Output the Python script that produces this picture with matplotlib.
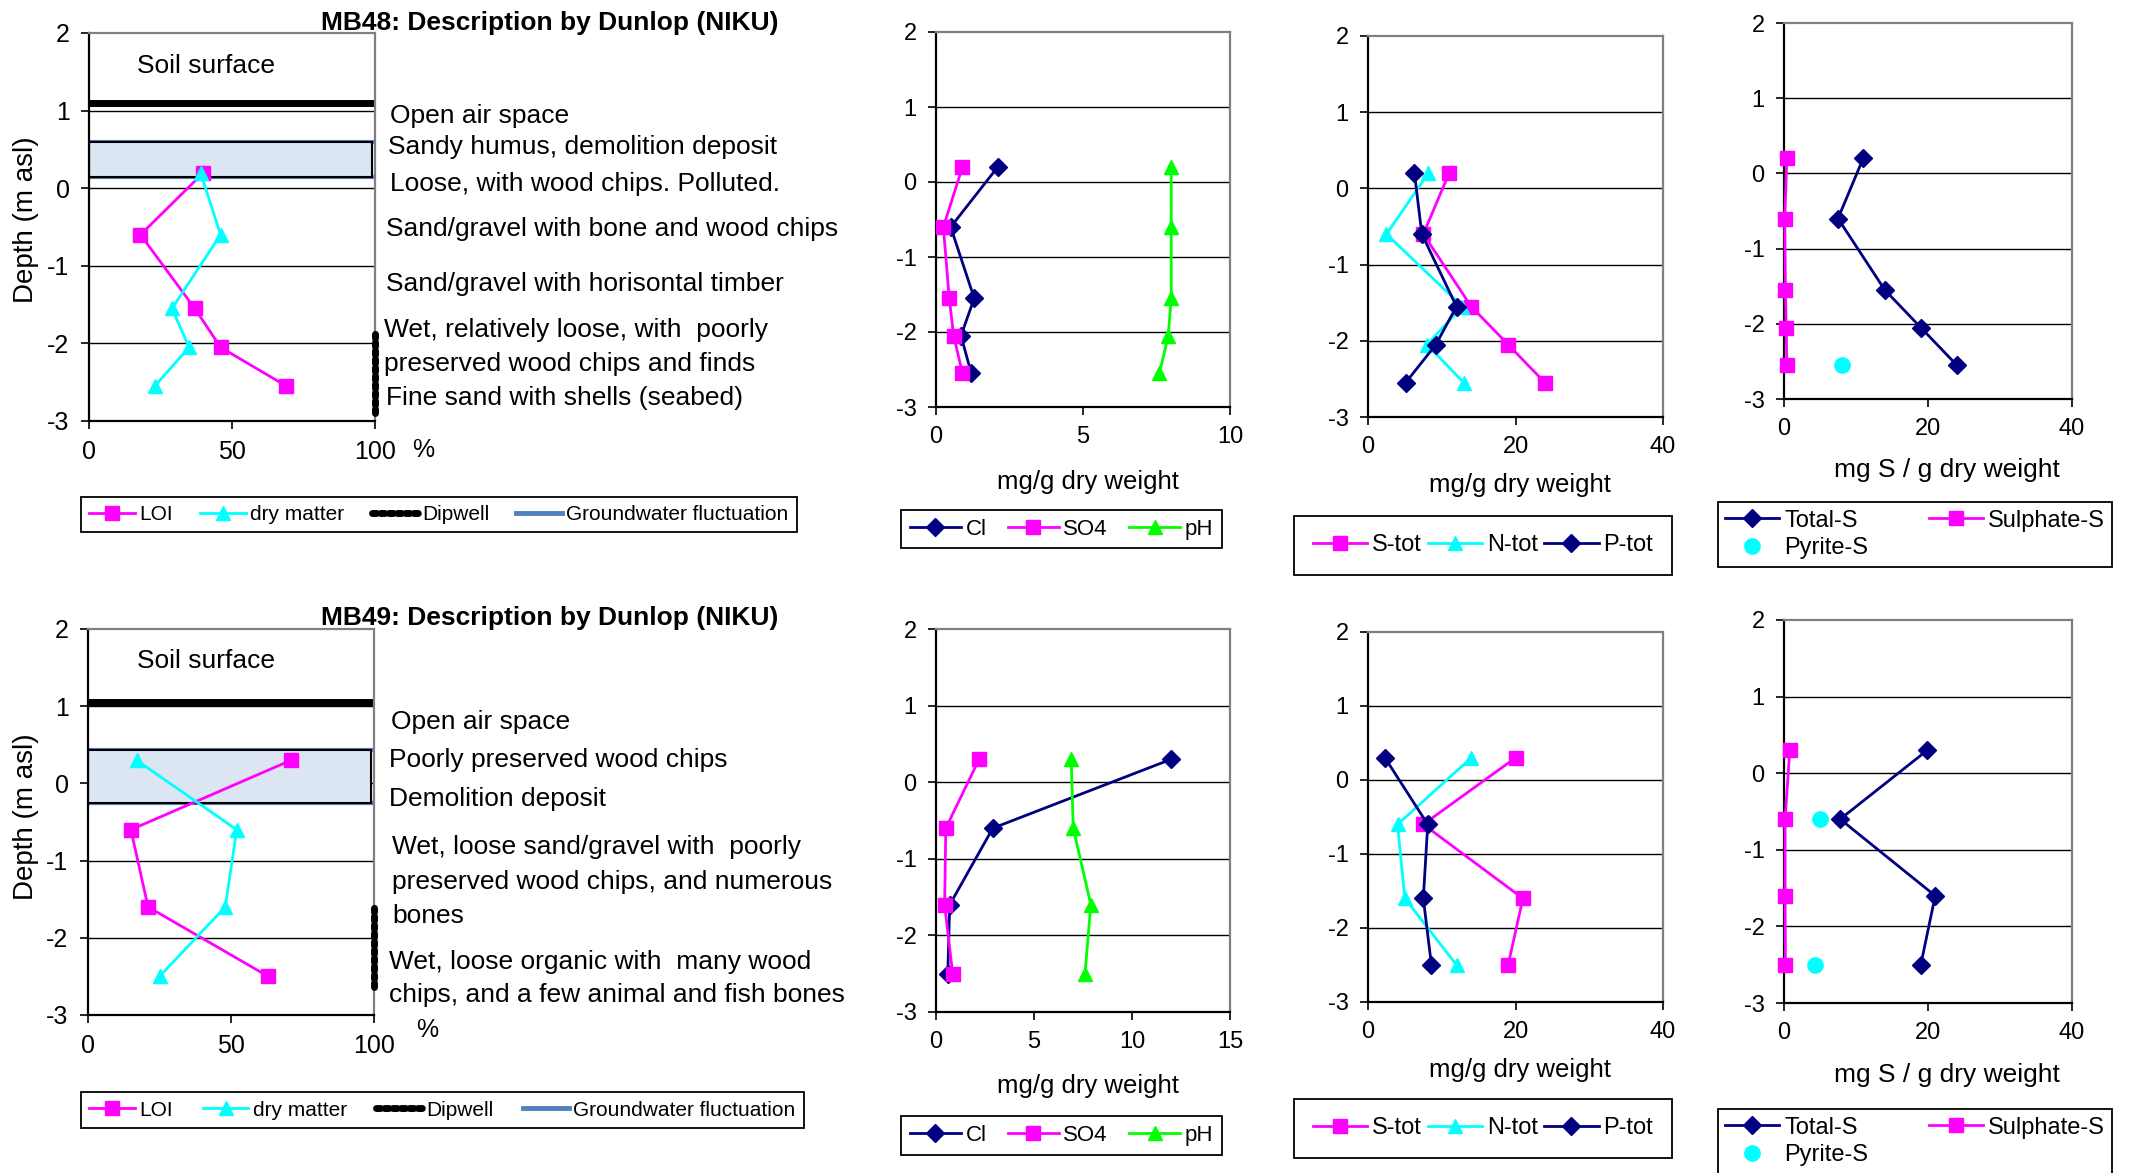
import matplotlib
matplotlib.use('Agg')
import matplotlib.pyplot as plt
from matplotlib.lines import Line2D

plt.rcParams['axes.unicode_minus'] = False
plt.rcParams['font.family'] = ['Liberation Sans', 'DejaVu Sans']

NAVY = '#000080'
MAGENTA = '#ff00ff'
CYAN = '#00ffff'
GREEN = '#00ff00'
GW_BLUE = '#4f81bd'
GW_FILL = '#dce6f2'

# ---- data: MB48 ----
mb48_depth = [0.2, -0.6, -1.55, -2.05, -2.55]
mb48_loi = [40, 18, 37, 46, 69]
mb48_dry = [39, 46, 29, 35, 23]
mb48_cl = [2.1, 0.5, 1.3, 0.85, 1.2]
mb48_so4 = [0.9, 0.25, 0.45, 0.6, 0.9]
mb48_ph = [8.0, 8.0, 8.0, 7.9, 7.6]
mb48_stot = [11, 7.5, 14, 19, 24]
mb48_ntot = [8.2, 2.5, 12.8, 8, 13]
mb48_ptot = [6.3, 7.3, 12, 9.2, 5.1]
mb48_total_s = [11, 7.5, 14, 19, 24]
mb48_sulphate_s = [0.4, 0.1, 0.2, 0.3, 0.4]
mb48_pyrite_depth = [-2.55]
mb48_pyrite_s = [8]
mb48_soil_surface = 1.1
mb48_groundwater = (0.15, 0.6)
mb48_dipwell = (-2.9, -1.83)
mb48_layers = ['Open air space', 'Sandy humus, demolition deposit',
               'Loose, with wood chips. Polluted.',
               'Sand/gravel with bone and wood chips',
               'Sand/gravel with horisontal timber',
               'Wet, relatively loose, with  poorly',
               'preserved wood chips and finds',
               'Fine sand with shells (seabed)']

# ---- data: MB49 ----
mb49_depth = [0.3, -0.6, -1.6, -2.5]
mb49_loi = [71, 15, 21, 63]
mb49_dry = [17, 52, 48, 25]
mb49_cl = [12.0, 2.9, 0.7, 0.6]
mb49_so4 = [2.2, 0.5, 0.44, 0.85]
mb49_ph = [6.9, 7.0, 7.9, 7.6]
mb49_stot = [20, 7.5, 21, 19]
mb49_ntot = [14, 4, 5, 12]
mb49_ptot = [2.3, 8.1, 7.5, 8.6]
mb49_total_s = [19.9, 7.8, 21, 19]
mb49_sulphate_s = [0.8, 0.15, 0.15, 0.2]
mb49_pyrite_depth = [-0.6, -2.5]
mb49_pyrite_s = [5, 4.3]
mb49_soil_surface = 1.05
mb49_groundwater = (-0.26, 0.43)
mb49_dipwell = (-2.64, -1.58)
mb49_layers = ['Open air space', 'Poorly preserved wood chips',
               'Demolition deposit',
               'Wet, loose sand/gravel with  poorly',
               'preserved wood chips, and numerous', 'bones',
               'Wet, loose organic with  many wood',
               'chips, and a few animal and fish bones']

W, H = 2134, 1173
fig = plt.figure(figsize=(W / 100, H / 100), dpi=100)


def fx(x):
    return x / W


def fy(y):
    return 1 - y / H


def box(l, t, r, b):
    return [l / W, 1 - b / H, (r - l) / W, (b - t) / H]


def depth_axes(rect, xmax, xticks, labelsize=17):
    ax = fig.add_axes(rect)
    ax.set_xlim(0, xmax)
    ax.set_ylim(-3, 2)
    ax.set_xticks(xticks)
    ax.set_yticks(range(-3, 3))
    for y in (-2, -1, 0, 1):
        ax.axhline(y, color='black', lw=1, zorder=1)
    for s in ('left', 'bottom'):
        ax.spines[s].set_color('black')
        ax.spines[s].set_linewidth(1.6)
    for s in ('top', 'right'):
        ax.spines[s].set_color('#808080')
        ax.spines[s].set_linewidth(1.6)
    ax.tick_params(direction='out', length=6, width=1.2,
                   labelsize=labelsize, pad=8)
    return ax


def framed_legend(ax, handles, labels, rect, ncol, size=16, **kw):
    opts = dict(handlelength=2.3, handletextpad=0.2, columnspacing=0.6)
    opts.update(kw)
    leg = ax.legend(handles, labels, loc='center', bbox_to_anchor=rect,
                    bbox_transform=fig.transFigure, mode='expand', ncol=ncol,
                    fancybox=False, edgecolor='black', borderaxespad=0,
                    prop={'size': size}, framealpha=1, **opts)
    leg.get_frame().set_linewidth(1.3)
    return leg


def line(ax, x, y, color, marker, ms, label):
    h, = ax.plot(x, y, color=color, marker=marker, ms=ms, lw=2,
                 label=label, zorder=3, clip_on=False)
    return h


def profile_panel(axrect, legrect, depth, loi, dry, soil, gw, dip, title,
                  title_y, layers, layer_pos, soil_y, pct_pos, ylab_y):
    ax = depth_axes(axrect, 100, [0, 50, 100], labelsize=18)
    ax.axhspan(gw[0], gw[1], xmin=0, xmax=0.99, facecolor=GW_FILL,
               edgecolor='black', lw=1.5, zorder=1.5)
    ax.hlines(gw, 0, 100, color=GW_BLUE, lw=3, zorder=1.4)
    ax.hlines(soil, 0, 100, color='black', lw=5, zorder=2)
    h1 = line(ax, loi, depth, MAGENTA, 's', 10, 'LOI')
    h2 = line(ax, dry, depth, CYAN, '^', 10, 'dry matter')
    h3, = ax.plot([100, 100], dip, color='black', lw=5,
                  linestyle=(0, (0.6, 0.6)), dash_capstyle='round',
                  clip_on=False, zorder=4)
    h4 = Line2D([], [], color=GW_BLUE, lw=3.5)
    framed_legend(ax, [h1, h2, h3, h4],
                  ['LOI', 'dry matter', 'Dipwell', 'Groundwater fluctuation'],
                  legrect, 4, size=15, handlelength=2.2, columnspacing=0.5)
    fig.text(fx(550), fy(title_y), title, ha='center', va='center',
             fontsize=19, fontweight='bold')
    fig.text(fx(137), fy(soil_y), 'Soil surface', ha='left', va='center',
             fontsize=19)
    for txt, (xp, yp) in zip(layers, layer_pos):
        fig.text(fx(xp), fy(yp), txt, ha='left', va='center', fontsize=19)
    fig.text(fx(pct_pos[0]), fy(pct_pos[1]), '%', ha='left', va='center',
             fontsize=18)
    fig.text(fx(26), fy(ylab_y), 'Depth (m asl)', rotation=90,
             ha='center', va='center', fontsize=20)
    return ax


def chem_panel(axrect, legrect, xmax, xticks, depth, cl, so4, ph, xlab_y):
    ax = depth_axes(axrect, xmax, xticks)
    h1 = line(ax, cl, depth, NAVY, 'D', 9, 'Cl')
    h2 = line(ax, so4, depth, MAGENTA, 's', 10, 'SO4')
    h3 = line(ax, ph, depth, GREEN, '^', 10, 'pH')
    framed_legend(ax, [h1, h2, h3], ['Cl', 'SO4', 'pH'], legrect, 3)
    fig.text(fx(1088), fy(xlab_y), 'mg/g dry weight', ha='center',
             va='center', fontsize=18.5)
    return ax


def nutrient_panel(axrect, legrect, depth, stot, ntot, ptot, xlab_y):
    ax = depth_axes(axrect, 40, [0, 20, 40])
    h1 = line(ax, stot, depth, MAGENTA, 's', 10, 'S-tot')
    h2 = line(ax, ntot, depth, CYAN, '^', 10, 'N-tot')
    h3 = line(ax, ptot, depth, NAVY, 'D', 9, 'P-tot')
    framed_legend(ax, [h1, h2, h3], ['S-tot', 'N-tot', 'P-tot'], legrect, 3,
                  size=17, borderpad=0.8)
    fig.text(fx(1520), fy(xlab_y), 'mg/g dry weight', ha='center',
             va='center', fontsize=18.5)
    return ax


def sulphur_panel(axrect, legrect, depth, total_s, sulphate_s, pyr_depth,
                  pyr_s, xlab_y):
    ax = depth_axes(axrect, 40, [0, 20, 40])
    h1 = line(ax, total_s, depth, NAVY, 'D', 9, 'Total-S')
    h2 = line(ax, sulphate_s, depth, MAGENTA, 's', 10, 'Sulphate-S')
    h3, = ax.plot(pyr_s, pyr_depth, 'o', color=CYAN, ms=11, zorder=3,
                  label='Pyrite-S')
    framed_legend(ax, [h1, h3, h2], ['Total-S', 'Pyrite-S', 'Sulphate-S'],
                  legrect, 2, size=17, labelspacing=0.25, borderpad=0.3)
    fig.text(fx(1947), fy(xlab_y), 'mg S / g dry weight', ha='center',
             va='center', fontsize=19)
    return ax


# ---- MB48 row ----
profile_panel(box(89, 33, 375, 421), box(81, 484, 797, 545),
              mb48_depth, mb48_loi, mb48_dry, mb48_soil_surface,
              mb48_groundwater, mb48_dipwell,
              'MB48: Description by Dunlop (NIKU)', 23, mb48_layers,
              [(390, 116), (388, 147), (390, 184), (386, 229), (386, 284),
               (384, 330), (384, 364), (386, 398)],
              66, (412, 450), 220)
chem_panel(box(936, 32, 1230, 407), box(901, 504, 1222, 554), 10,
           [0, 5, 10], mb48_depth, mb48_cl, mb48_so4, mb48_ph, 482)
nutrient_panel(box(1368, 36, 1663, 417), box(1294, 511, 1672, 580),
               mb48_depth, mb48_stot, mb48_ntot, mb48_ptot, 485)
sulphur_panel(box(1784, 23, 2072, 399), box(1718, 502, 2112, 567),
              mb48_depth, mb48_total_s, mb48_sulphate_s, mb48_pyrite_depth,
              mb48_pyrite_s, 470)

# ---- MB49 row ----
profile_panel(box(88, 629, 374, 1015), box(81, 1081, 804, 1139),
              mb49_depth, mb49_loi, mb49_dry, mb49_soil_surface,
              mb49_groundwater, mb49_dipwell,
              'MB49: Description by Dunlop (NIKU)', 618, mb49_layers,
              [(391, 722), (389, 760), (389, 799), (392, 847), (392, 882),
               (392, 916), (389, 962), (389, 995)],
              661, (416, 1030), 817)
chem_panel(box(936, 629, 1230, 1012), box(901, 1110, 1222, 1161), 15,
           [0, 5, 10, 15], mb49_depth, mb49_cl, mb49_so4, mb49_ph, 1086)
nutrient_panel(box(1368, 632, 1663, 1002), box(1294, 1094, 1672, 1163),
               mb49_depth, mb49_stot, mb49_ntot, mb49_ptot, 1070)
sulphur_panel(box(1784, 620, 2072, 1003), box(1718, 1108, 2112, 1175),
              mb49_depth, mb49_total_s, mb49_sulphate_s, mb49_pyrite_depth,
              mb49_pyrite_s, 1075)

fig.savefig('out.png', dpi=100, facecolor='white')
